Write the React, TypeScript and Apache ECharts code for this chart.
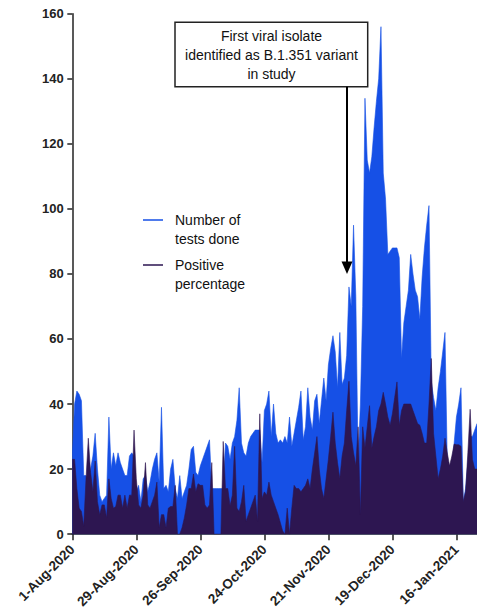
import React, { useEffect, useRef } from "react";
import * as echarts from "echarts";

// Daily data starting 1-Aug-2020
const START_YEAR = 2020;
const START_MONTH = 7; // August (0-based)
const START_DAY = 1;
const MONTHS = ["Jan", "Feb", "Mar", "Apr", "May", "Jun", "Jul", "Aug", "Sep", "Oct", "Nov", "Dec"];

const TESTS_DONE = [
  24, 40, 44, 43, 41, 18, 18, 17, 20, 24,
  31, 20, 12, 10, 11, 12, 36, 20, 25, 21,
  25, 22, 20, 18, 18, 24, 25, 24, 13, 15,
  10, 17, 18, 13, 16, 20, 23, 25, 16, 39,
  14, 15, 13, 20, 23, 14, 11, 18, 11, 13,
  15, 20, 26, 27, 19, 18, 21, 23, 25, 27,
  29, 14, 14, 14, 14, 14, 14, 28, 27, 23,
  28, 30, 35, 45, 28, 25, 24, 28, 30, 31,
  32, 32, 32, 22, 38, 40, 44, 30, 40, 31,
  28, 29, 28, 30, 28, 36, 27, 31, 35, 39,
  44, 29, 33, 45, 36, 32, 41, 43, 34, 41,
  48, 41, 52, 57, 61, 56, 45, 62, 46, 48,
  55, 76, 70, 95, 73, 22, 40, 70, 134, 115,
  111, 116, 125, 133, 140, 156, 111, 103, 86, 87,
  88, 88, 88, 85, 54, 65, 70, 75, 86, 80,
  75, 73, 66, 79, 88, 95, 101, 47, 42, 38,
  45, 50, 56, 62, 22, 21, 20, 28, 36, 40,
  45, 10, 14, 22, 30, 30, 32, 34,
];

const POSITIVE_PERCENTAGE = [
  23, 23, 14, 8, 7, 2.5, 17, 29.5, 19, 13,
  22.5, 10, 6, 9, 9, 5, 17, 11, 8, 8.5,
  12, 12, 8, 12, 8, 12, 12, 32, 17, 9,
  8, 12, 22, 9, 8, 10, 12, 16, 2, 6,
  6, 2, 8, 8.5, 8.5, 15, 0, 0, 2, 5,
  9, 14, 14, 18.5, 13, 15.5, 15, 15, 9, 8,
  9, 22, 0, 0, 0, 0, 28.5, 14, 14, 8.7,
  12, 27, 8, 7, 10, 15, 4, 6, 8, 10,
  12, 4, 37, 11, 13, 12, 16, 12, 10, 8,
  6, 3.5, 1, 0, 8, 0, 8, 15, 14, 14,
  13, 14, 15, 17, 14, 20, 25, 30, 20, 14,
  11, 17, 23, 30, 37.5, 28, 22, 17, 24, 28,
  38, 47, 30, 25, 21, 33, 6, 33, 26.5, 33,
  39.5, 26.5, 30, 33, 38, 40, 43.6, 40, 36, 33.5,
  37, 42, 46.8, 33.5, 38, 40, 40, 40, 40, 38,
  36, 34, 33.5, 31, 28, 28, 40, 54, 31, 24,
  17, 20, 24, 29.5, 25, 21, 24, 27.7, 27.5, 27.5,
  27, 10, 13, 25, 38.4, 23, 20, 20,
];

const SERIES_NAMES = ["Number of\ntests done", "Positive\npercentage"];
const SERIES_COLORS = ["#1650e6", "#2d1651"];
const ANNOTATION_TEXT = "First viral isolate\nidentified as B.1.351 variant\nin study";

// legend icon: a short thin line aligned with the first text line
const LEGEND_ICON = "path://M0,8.8H20V10.2H0Z M0,0H0.01V0.01H0Z M19.99,37.99H20V38H19.99Z";

function buildDates(n: number): string[] {
  const out: string[] = [];
  for (let i = 0; i < n; i++) {
    const d = new Date(START_YEAR, START_MONTH, START_DAY + i);
    out.push(`${d.getDate()}-${MONTHS[d.getMonth()]}-${d.getFullYear()}`);
  }
  return out;
}

const FONT = "'Liberation Sans', Arial, Helvetica, sans-serif";

export default function App() {
  const ref = useRef<HTMLDivElement>(null);

  useEffect(() => {
    if (!ref.current) return;
    const chart = echarts.init(ref.current, null, { renderer: "svg" });
    const dates = buildDates(TESTS_DONE.length);

    chart.setOption({
      animation: false,
      backgroundColor: "#ffffff",
      textStyle: { fontFamily: FONT },
      grid: { left: 72.3, right: 0, top: 13.7, bottom: 75.7, containLabel: false },
      legend: {
        orient: "vertical",
        left: 143,
        top: 210.5,
        padding: 0,
        itemGap: 7,
        itemWidth: 20,
        itemHeight: 38,
        icon: LEGEND_ICON,
        symbolKeepAspect: false,
        selectedMode: false,
        itemStyle: { borderWidth: 0 },
        data: SERIES_NAMES,
        textStyle: {
          fontFamily: FONT,
          fontSize: 14,
          lineHeight: 19,
          color: "#111",
          padding: [0, 0, 0, 7],
        },
      },
      xAxis: {
        type: "category",
        data: dates,
        boundaryGap: false,
        axisLine: { show: true, lineStyle: { color: "#222", width: 1.5 } },
        axisTick: { show: true, interval: 27, length: 6, lineStyle: { color: "#222", width: 1.5 } },
        axisLabel: {
          interval: 27,
          rotate: 45,
          margin: 13,
          fontFamily: FONT,
          fontSize: 13.5,
          fontWeight: "bold",
          color: "#222",
        },
        splitLine: { show: false },
      },
      yAxis: {
        type: "value",
        min: 0,
        max: 160,
        interval: 20,
        axisLine: { show: true, lineStyle: { color: "#222", width: 1.5 } },
        axisTick: { show: true, length: 5, lineStyle: { color: "#222", width: 1.5 } },
        axisLabel: {
          margin: 8.5,
          fontFamily: FONT,
          fontSize: 13,
          fontWeight: "bold",
          color: "#222",
        },
        splitLine: { show: false },
      },
      series: [
        {
          name: SERIES_NAMES[0],
          type: "line",
          data: TESTS_DONE,
          symbol: "none",
          color: SERIES_COLORS[0],
          lineStyle: { width: 0.6, color: SERIES_COLORS[0] },
          areaStyle: { color: SERIES_COLORS[0], opacity: 1 },
          z: 2,
        },
        {
          name: SERIES_NAMES[1],
          type: "line",
          data: POSITIVE_PERCENTAGE,
          symbol: "none",
          color: SERIES_COLORS[1],
          lineStyle: { width: 0.6, color: SERIES_COLORS[1] },
          areaStyle: { color: SERIES_COLORS[1], opacity: 1 },
          z: 3,
        },
      ],
      graphic: [
        {
          type: "rect",
          z: 10,
          shape: { x: 175, y: 22.3, width: 192.7, height: 64.4 },
          style: { fill: "#ffffff", stroke: "#222", lineWidth: 1.5 },
        },
        {
          type: "text",
          z: 11,
          x: 271.5,
          y: 54.5,
          style: {
            text: ANNOTATION_TEXT,
            fontFamily: FONT,
            fontSize: 14,
            lineHeight: 19,
            align: "center",
            verticalAlign: "middle",
            fill: "#111",
          },
        },
        {
          type: "line",
          z: 10,
          shape: { x1: 347, y1: 86.7, x2: 347, y2: 263 },
          style: { stroke: "#000", lineWidth: 2 },
        },
        {
          type: "polygon",
          z: 10,
          shape: { points: [[341.5, 261.5], [352.5, 261.5], [347, 274]] },
          style: { fill: "#000" },
        },
      ],
    });

    return () => chart.dispose();
  }, []);

  return (
    <div
      ref={ref}
      style={{ position: "fixed", left: 0, top: 0, width: 477, height: 611, background: "#fff" }}
    />
  );
}
